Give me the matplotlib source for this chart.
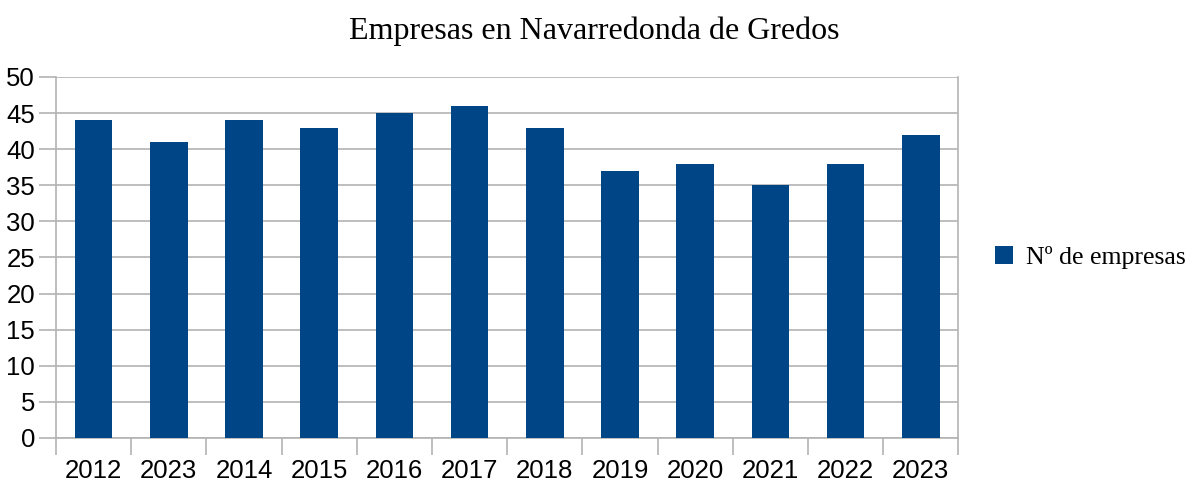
import matplotlib.pyplot as plt
import numpy as np

years = ['2012', '2023', '2014', '2015', '2016', '2017', '2018',
         '2019', '2020', '2021', '2022', '2023']
empresas = [44, 41, 44, 43, 45, 46, 43, 37, 38, 35, 38, 42]

bar_color = '#004586'
grid_color = '#b3b3b3'

fig = plt.figure(figsize=(11.88, 4.83), dpi=100)
ax = fig.add_axes([0.0471, 0.0932, 0.7597, 0.7474])

x = np.arange(len(years))
ax.bar(x, empresas, width=0.5, color=bar_color, label='Nº de empresas', zorder=3)

ax.set_xlim(-0.5, len(years) - 0.5)
ax.set_ylim(0, 50)
ax.set_yticks(range(0, 51, 5))
ax.set_xticks(x)
ax.set_xticklabels(years)
ax.set_xticks(np.arange(-0.5, len(years), 1), minor=True)

ax.tick_params(axis='x', which='major', length=0, pad=15, labelsize=18.5)
ax.tick_params(axis='x', which='minor', length=12, color=grid_color, width=1.2)
ax.tick_params(axis='y', length=12, color=grid_color, width=1.2, labelsize=18.5, pad=3)
for lab in ax.get_xticklabels() + ax.get_yticklabels():
    lab.set_fontfamily('Liberation Sans')

ax.grid(axis='y', color=grid_color, linewidth=1.2, zorder=0)
for side in ['left', 'bottom', 'right']:
    ax.spines[side].set_color(grid_color)
    ax.spines[side].set_linewidth(1.2)
ax.spines['top'].set_visible(False)

fig.suptitle('Empresas en Navarredonda de Gredos', x=0.5, y=0.965,
             fontsize=23, fontfamily='Liberation Serif')

ax.legend(loc='center left', bbox_to_anchor=(1.015, 0.5), frameon=False,
          prop={'family': 'Liberation Serif', 'size': 18.5},
          handlelength=0.7, handleheight=0.7, handletextpad=0.5)

fig.savefig('out.png', dpi=100)
